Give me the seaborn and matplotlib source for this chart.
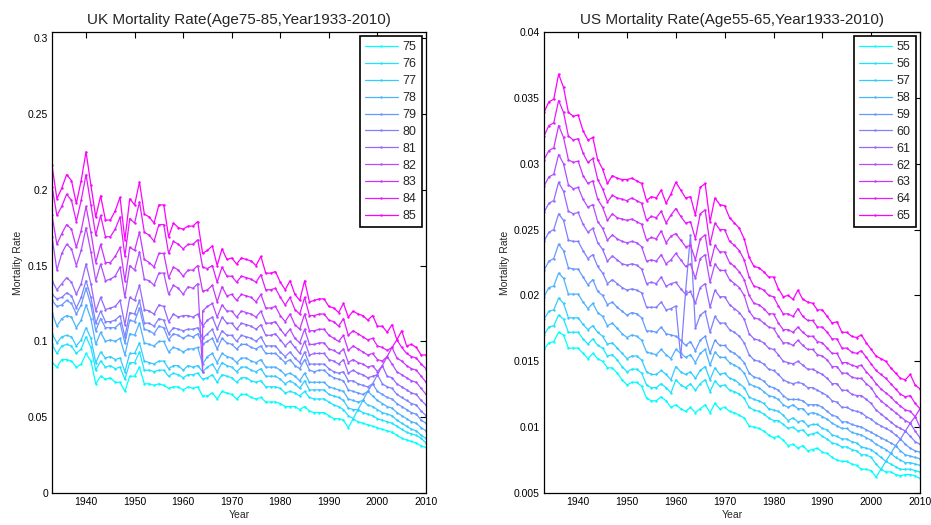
import pandas as pd
import seaborn as sns
import matplotlib.pyplot as plt

years = list(range(1933, 2011))

# UK mortality rates, ages 75-85, one value per year
uk75 = [.086, .083, .088, .088, .087, .083, .085, .092, .087, .072,
        .077, .075, .076, .073, .073, .067, .077, .077, .083, .072,
        .072, .071, .072, .071, .069, .070, .070, .068, .070, .069,
        .070, .064, .064, .066, .062, .067, .066, .065, .062, .065,
        .065, .063, .062, .063, .060, .060, .060, .059, .057, .057,
        .057, .055, .057, .054, .053, .053, .053, .051, .049, .049,
        .048, .043, .049, .047, .046, .045, .044, .043, .042, .041,
        .040, .038, .036, .035, .034, .033, .031, .030]
uk76 = [.098, .092, .097, .098, .097, .092, .095, .103, .096, .081,
        .087, .083, .084, .082, .083, .075, .086, .086, .093, .081,
        .081, .080, .081, .081, .077, .079, .078, .076, .078, .078,
        .079, .075, .076, .078, .073, .078, .077, .076, .073, .076,
        .076, .074, .073, .074, .070, .070, .070, .069, .066, .067,
        .066, .064, .067, .063, .062, .062, .062, .060, .058, .057,
        .055, .051, .049, .055, .053, .052, .051, .049, .048, .047,
        .046, .044, .042, .040, .039, .038, .036, .033]
uk77 = [.105, .099, .103, .104, .103, .097, .101, .109, .102, .086,
        .093, .089, .090, .088, .089, .080, .092, .092, .099, .087,
        .086, .085, .087, .087, .082, .084, .084, .081, .084, .083,
        .084, .080, .083, .085, .080, .086, .084, .083, .080, .083,
        .083, .081, .080, .082, .077, .077, .077, .075, .072, .074,
        .072, .069, .074, .068, .068, .068, .068, .065, .064, .063,
        .061, .056, .055, .055, .061, .058, .057, .055, .053, .052,
        .051, .048, .046, .044, .042, .041, .038, .036]
uk78 = [.119, .110, .115, .117, .116, .109, .114, .124, .115, .098,
        .106, .100, .101, .100, .102, .091, .105, .104, .112, .099,
        .098, .097, .100, .100, .093, .096, .095, .093, .095, .095,
        .096, .085, .090, .092, .086, .092, .090, .089, .086, .089,
        .089, .087, .086, .088, .083, .083, .083, .081, .078, .079,
        .077, .074, .079, .073, .073, .073, .073, .070, .069, .068,
        .067, .062, .061, .060, .061, .067, .064, .061, .059, .057,
        .056, .053, .051, .049, .047, .046, .043, .041]
uk79 = [.127, .123, .124, .127, .125, .118, .124, .135, .124, .107,
        .115, .109, .109, .109, .112, .099, .114, .113, .122, .108,
        .107, .105, .110, .109, .101, .105, .104, .102, .104, .103,
        .105, .098, .100, .102, .095, .102, .099, .098, .095, .098,
        .098, .096, .095, .097, .092, .092, .092, .089, .086, .088,
        .084, .082, .088, .081, .080, .081, .081, .078, .076, .075,
        .074, .068, .067, .066, .065, .067, .072, .067, .065, .063,
        .062, .059, .057, .055, .053, .052, .048, .046]
uk80 = [.131, .128, .129, .132, .130, .122, .129, .140, .129, .112,
        .120, .113, .113, .114, .117, .103, .119, .118, .127, .112,
        .112, .110, .115, .114, .105, .109, .108, .107, .108, .108,
        .109, .102, .105, .108, .100, .107, .104, .104, .100, .104,
        .103, .102, .100, .103, .097, .097, .097, .093, .090, .093,
        .089, .086, .093, .085, .085, .085, .085, .082, .080, .079,
        .080, .074, .074, .072, .071, .070, .072, .078, .072, .070,
        .069, .065, .063, .061, .059, .058, .054, .051]
uk81 = [.140, .134, .138, .142, .139, .131, .138, .151, .138, .120,
        .129, .121, .122, .123, .127, .111, .129, .127, .137, .121,
        .120, .118, .124, .123, .113, .118, .116, .117, .117, .116,
        .118, .110, .114, .116, .108, .116, .112, .112, .108, .112,
        .111, .110, .108, .111, .104, .104, .105, .101, .097, .100,
        .096, .092, .100, .091, .092, .092, .092, .088, .087, .085,
        .088, .079, .081, .079, .078, .076, .077, .078, .084, .077,
        .076, .072, .070, .068, .066, .065, .061, .058]
# age 82 carries a stray extra 1964 record (0.080) right after 1963
uk82_years = years[:31] + [1964] + years[31:]
uk82 = [.169, .147, .158, .164, .161, .150, .160, .175, .159, .140,
        .151, .140, .141, .143, .149, .129, .150, .147, .159, .141,
        .140, .137, .145, .145, .131, .137, .135, .131, .136, .135,
        .138, .080,
        .120, .123, .125, .116, .124, .120, .120, .116, .120,
        .119, .118, .116, .120, .112, .112, .113, .108, .104, .108,
        .102, .099, .108, .098, .098, .099, .099, .095, .094, .092,
        .095, .086, .088, .086, .085, .083, .084, .080, .084, .090,
        .085, .080, .078, .076, .074, .073, .069, .065]
uk83 = [.183, .164, .171, .177, .174, .162, .173, .189, .172, .152,
        .164, .152, .152, .156, .162, .140, .162, .160, .172, .154,
        .152, .149, .158, .158, .142, .149, .147, .143, .147, .147,
        .150, .133, .134, .137, .126, .136, .130, .131, .127, .131,
        .130, .129, .126, .131, .122, .122, .123, .117, .113, .118,
        .111, .108, .118, .107, .107, .108, .108, .104, .102, .100,
        .104, .094, .097, .095, .093, .091, .092, .088, .087, .090,
        .096, .089, .087, .084, .082, .081, .077, .073]
uk84 = [.202, .183, .189, .197, .193, .179, .193, .210, .190, .170,
        .183, .169, .169, .174, .182, .156, .181, .178, .192, .172,
        .170, .166, .177, .177, .158, .166, .164, .161, .164, .164,
        .167, .149, .148, .150, .139, .149, .143, .143, .139, .143,
        .142, .141, .139, .144, .134, .134, .135, .129, .124, .129,
        .121, .118, .129, .117, .117, .118, .118, .114, .113, .110,
        .115, .104, .107, .105, .103, .101, .102, .097, .096, .094,
        .096, .101, .096, .092, .090, .089, .085, .082]
uk85 = [.216, .194, .201, .210, .206, .191, .206, .225, .203, .182,
        .196, .180, .180, .186, .195, .167, .194, .190, .205, .184,
        .182, .178, .190, .190, .169, .178, .175, .174, .176, .176,
        .179, .158, .160, .163, .150, .161, .154, .155, .151, .155,
        .154, .153, .150, .156, .145, .145, .146, .139, .134, .140,
        .131, .127, .140, .126, .127, .128, .128, .123, .122, .119,
        .125, .116, .120, .118, .117, .114, .117, .110, .110, .106,
        .111, .101, .107, .097, .098, .096, .091, .091]

# US mortality rates, ages 55-65
us55 = [.0159, .0164, .0165, .0172, .0170, .0160, .0160, .0160, .0156, .0152,
        .0156, .0152, .0150, .0145, .0145, .0141, .0136, .0132, .0134, .0134,
        .0131, .0122, .0120, .0120, .0123, .0120, .0115, .0117, .0114, .0112,
        .0115, .0111, .0114, .0117, .0111, .0118, .0114, .0115, .0112, .0111,
        .0109, .0107, .0101, .0100, .0099, .0097, .0094, .0092, .0093, .0090,
        .0086, .0087, .0084, .0086, .0082, .0083, .0084, .0081, .0080, .0077,
        .0075, .0074, .0074, .0072, .0071, .0068, .0068, .0067, .0062, .0068,
        .0066, .0066, .0064, .0063, .0064, .0064, .0063, .0061]
us56 = [.0170, .0176, .0177, .0185, .0182, .0172, .0172, .0172, .0167, .0163,
        .0167, .0162, .0160, .0154, .0155, .0151, .0146, .0142, .0144, .0144,
        .0141, .0132, .0130, .0130, .0133, .0130, .0126, .0136, .0132, .0130,
        .0133, .0128, .0133, .0136, .0127, .0135, .0131, .0132, .0128, .0127,
        .0125, .0122, .0115, .0113, .0112, .0110, .0107, .0105, .0105, .0102,
        .0099, .0100, .0097, .0098, .0094, .0095, .0096, .0093, .0091, .0088,
        .0087, .0085, .0085, .0083, .0082, .0079, .0079, .0077, .0072, .0068,
        .0074, .0072, .0070, .0068, .0068, .0068, .0067, .0066]
us57 = [.0182, .0188, .0189, .0198, .0194, .0183, .0183, .0183, .0178, .0174,
        .0177, .0172, .0169, .0163, .0164, .0160, .0156, .0152, .0154, .0154,
        .0151, .0142, .0140, .0140, .0143, .0140, .0136, .0146, .0142, .0140,
        .0142, .0137, .0143, .0146, .0136, .0145, .0140, .0141, .0137, .0136,
        .0133, .0130, .0123, .0121, .0120, .0118, .0114, .0113, .0112, .0109,
        .0105, .0107, .0104, .0105, .0101, .0102, .0102, .0099, .0098, .0094,
        .0093, .0091, .0091, .0089, .0088, .0085, .0084, .0083, .0080, .0077,
        .0074, .0080, .0077, .0075, .0073, .0073, .0072, .0071]
us58 = [.0199, .0206, .0207, .0217, .0213, .0201, .0201, .0201, .0195, .0190,
        .0194, .0187, .0184, .0177, .0179, .0175, .0171, .0168, .0170, .0169,
        .0166, .0157, .0156, .0155, .0159, .0155, .0152, .0159, .0156, .0153,
        .0155, .0149, .0156, .0159, .0147, .0157, .0153, .0153, .0149, .0147,
        .0145, .0141, .0133, .0131, .0130, .0127, .0124, .0123, .0121, .0117,
        .0115, .0117, .0114, .0114, .0110, .0111, .0110, .0108, .0106, .0103,
        .0101, .0099, .0099, .0096, .0095, .0094, .0092, .0090, .0087, .0085,
        .0083, .0080, .0086, .0082, .0079, .0078, .0077, .0076]
us59 = [.0219, .0226, .0228, .0239, .0234, .0221, .0220, .0220, .0214, .0208,
        .0212, .0203, .0200, .0193, .0195, .0191, .0188, .0185, .0187, .0186,
        .0183, .0173, .0173, .0172, .0176, .0171, .0170, .0169, .0166, .0162,
        .0165, .0158, .0166, .0169, .0156, .0166, .0162, .0162, .0158, .0156,
        .0153, .0149, .0141, .0138, .0137, .0135, .0131, .0130, .0128, .0124,
        .0121, .0121, .0121, .0120, .0117, .0117, .0117, .0115, .0112, .0109,
        .0108, .0104, .0104, .0102, .0101, .0100, .0098, .0096, .0094, .0092,
        .0090, .0088, .0086, .0091, .0087, .0084, .0082, .0081]
us60 = [.0241, .0248, .0250, .0262, .0257, .0242, .0241, .0241, .0234, .0228,
        .0231, .0222, .0217, .0209, .0212, .0209, .0206, .0204, .0205, .0204,
        .0202, .0191, .0191, .0191, .0195, .0189, .0190, .0192, .0153, .0203,
        .0246, .0175, .0185, .0188, .0172, .0184, .0179, .0179, .0174, .0172,
        .0169, .0164, .0155, .0151, .0150, .0148, .0144, .0143, .0140, .0136,
        .0134, .0133, .0134, .0133, .0130, .0130, .0128, .0126, .0124, .0120,
        .0119, .0115, .0115, .0113, .0112, .0111, .0108, .0106, .0103, .0101,
        .0099, .0097, .0094, .0091, .0097, .0093, .0089, .0087]
us61 = [.0263, .0270, .0272, .0286, .0279, .0264, .0262, .0263, .0254, .0248,
        .0251, .0240, .0235, .0226, .0230, .0227, .0224, .0223, .0224, .0223,
        .0220, .0209, .0210, .0209, .0214, .0207, .0209, .0210, .0205, .0201,
        .0203, .0194, .0206, .0209, .0191, .0204, .0199, .0199, .0193, .0190,
        .0187, .0182, .0171, .0167, .0166, .0164, .0160, .0159, .0155, .0150,
        .0149, .0148, .0150, .0147, .0144, .0144, .0142, .0140, .0137, .0133,
        .0133, .0128, .0128, .0125, .0124, .0124, .0121, .0118, .0113, .0110,
        .0107, .0104, .0101, .0099, .0097, .0103, .0097, .0092]
us62 = [.0283, .0290, .0292, .0307, .0300, .0284, .0281, .0282, .0273, .0267,
        .0269, .0256, .0251, .0242, .0246, .0243, .0241, .0240, .0241, .0240,
        .0237, .0226, .0227, .0226, .0231, .0224, .0227, .0232, .0227, .0222,
        .0224, .0213, .0228, .0231, .0210, .0224, .0219, .0219, .0212, .0209,
        .0206, .0200, .0188, .0183, .0182, .0179, .0176, .0175, .0169, .0164,
        .0164, .0162, .0166, .0162, .0159, .0159, .0155, .0154, .0151, .0146,
        .0146, .0141, .0141, .0138, .0137, .0137, .0133, .0130, .0124, .0120,
        .0117, .0114, .0111, .0108, .0105, .0103, .0108, .0100]
us63 = [.0303, .0310, .0312, .0329, .0320, .0303, .0301, .0302, .0291, .0285,
        .0287, .0273, .0267, .0257, .0262, .0259, .0258, .0257, .0258, .0256,
        .0254, .0242, .0244, .0243, .0249, .0240, .0245, .0247, .0242, .0237,
        .0238, .0227, .0243, .0246, .0223, .0238, .0233, .0233, .0225, .0222,
        .0218, .0212, .0200, .0194, .0193, .0190, .0186, .0186, .0179, .0174,
        .0174, .0172, .0176, .0172, .0169, .0169, .0165, .0164, .0160, .0156,
        .0156, .0149, .0149, .0147, .0146, .0147, .0142, .0138, .0133, .0129,
        .0126, .0123, .0119, .0116, .0113, .0112, .0108, .0114]
us64 = [.0321, .0329, .0331, .0348, .0339, .0321, .0318, .0319, .0308, .0301,
        .0304, .0288, .0281, .0271, .0276, .0274, .0273, .0272, .0274, .0272,
        .0270, .0257, .0260, .0259, .0264, .0255, .0261, .0266, .0260, .0255,
        .0256, .0243, .0262, .0265, .0239, .0255, .0250, .0250, .0241, .0238,
        .0234, .0227, .0214, .0207, .0206, .0204, .0200, .0199, .0192, .0186,
        .0186, .0184, .0190, .0184, .0181, .0181, .0176, .0176, .0172, .0167,
        .0167, .0160, .0160, .0157, .0156, .0158, .0153, .0148, .0143, .0140,
        .0137, .0133, .0129, .0125, .0123, .0124, .0118, .0114]
us65 = [.0339, .0347, .0349, .0368, .0358, .0339, .0336, .0337, .0325, .0318,
        .0320, .0303, .0296, .0285, .0291, .0289, .0288, .0288, .0289, .0287,
        .0285, .0272, .0275, .0274, .0280, .0270, .0277, .0286, .0280, .0274,
        .0275, .0261, .0282, .0285, .0256, .0274, .0269, .0268, .0259, .0255,
        .0251, .0243, .0229, .0222, .0221, .0218, .0214, .0214, .0205, .0199,
        .0200, .0197, .0204, .0197, .0195, .0194, .0189, .0189, .0184, .0179,
        .0180, .0172, .0172, .0169, .0168, .0170, .0164, .0159, .0154, .0152,
        .0150, .0145, .0141, .0137, .0136, .0140, .0132, .0129]

uk_ages = ['75', '76', '77', '78', '79', '80', '81', '82', '83', '84', '85']
us_ages = ['55', '56', '57', '58', '59', '60', '61', '62', '63', '64', '65']
uk_series = [(years, uk75), (years, uk76), (years, uk77), (years, uk78),
             (years, uk79), (years, uk80), (years, uk81), (uk82_years, uk82),
             (years, uk83), (years, uk84), (years, uk85)]
us_series = [(years, s) for s in
             [us55, us56, us57, us58, us59, us60, us61, us62, us63, us64, us65]]


def long_frame(ages, series):
    rows = []
    for age, (yrs, vals) in zip(ages, series):
        for yr, v in zip(yrs, vals):
            rows.append({'Year': yr, 'Age': age, 'Rate': v})
    return pd.DataFrame(rows)


# MATLAB "cool" colormap: cyan -> magenta
cool = [(i / 10, 1 - i / 10, 1.0) for i in range(11)]

sns.set_style('white')
plt.rcParams['font.family'] = ['Liberation Sans', 'DejaVu Sans']

fig = plt.figure(figsize=(9.31, 5.25), dpi=100)
ax1 = fig.add_axes([0.0559, 0.061, 0.4017, 0.878])
ax2 = fig.add_axes([0.5843, 0.061, 0.4039, 0.878])


def draw(ax, ages, series, title, ylim, yticks, yticklabels):
    df = long_frame(ages, series)
    sns.lineplot(data=df, x='Year', y='Rate', hue='Age', hue_order=ages,
                 palette=cool, marker='.', markersize=3.5, markeredgewidth=0,
                 linewidth=0.9, estimator=None, sort=False, legend=False,
                 ax=ax)
    ax.set_xlim(1933, 2010)
    ax.set_ylim(*ylim)
    ax.set_xticks(range(1940, 2011, 10))
    ax.set_yticks(yticks)
    ax.set_yticklabels(yticklabels)
    ax.tick_params(direction='in', top=True, right=True, length=4,
                   width=0.8, labelsize=7.5, colors='black', pad=3)
    for s in ax.spines.values():
        s.set_color('black')
        s.set_linewidth(0.9)
    ax.set_title(title, fontsize=11, pad=6)
    ax.set_xlabel('Year', fontsize=7.5, labelpad=2)
    ax.set_ylabel('Mortality Rate', fontsize=7.5, labelpad=3)
    leg = ax.legend(ax.get_lines(), ages, loc='upper right', fontsize=9,
                    handlelength=2.6, handletextpad=0.4, borderpad=0.4,
                    labelspacing=0.39, borderaxespad=0.35, fancybox=False,
                    framealpha=1, edgecolor='black')
    leg.get_frame().set_linewidth(1.2)


draw(ax1, uk_ages, uk_series, 'UK Mortality Rate(Age75-85,Year1933-2010)',
     (0, 0.304), [0, 0.05, 0.1, 0.15, 0.2, 0.25, 0.3],
     ['0', '0.05', '0.1', '0.15', '0.2', '0.25', '0.3'])
draw(ax2, us_ages, us_series, 'US Mortality Rate(Age55-65,Year1933-2010)',
     (0.005, 0.04), [0.005, 0.01, 0.015, 0.02, 0.025, 0.03, 0.035, 0.04],
     ['0.005', '0.01', '0.015', '0.02', '0.025', '0.03', '0.035', '0.04'])

fig.savefig('out.png', dpi=100)
